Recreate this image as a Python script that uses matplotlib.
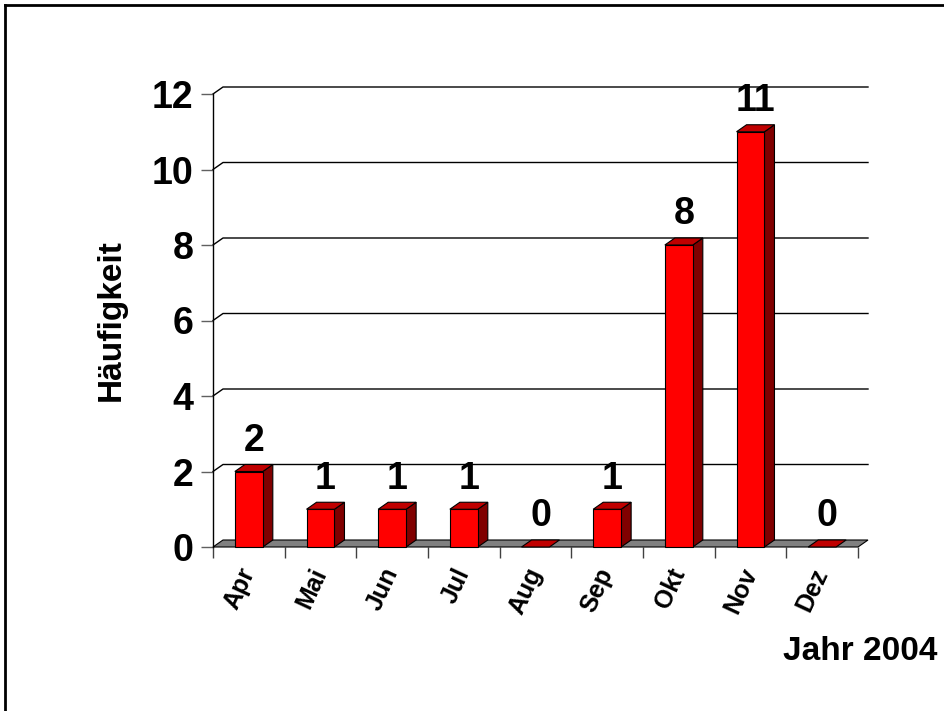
import matplotlib.pyplot as plt
from matplotlib.patches import Polygon
from matplotlib.lines import Line2D

plt.rcParams['font.family'] = ['Liberation Sans', 'DejaVu Sans']
plt.rcParams['font.weight'] = 'bold'

months = ["Apr", "Mai", "Jun", "Jul", "Aug", "Sep", "Okt", "Nov", "Dez"]
counts = [2, 1, 1, 1, 0, 1, 8, 11, 0]
yticks = [0, 2, 4, 6, 8, 10, 12]

fig = plt.figure(figsize=(9.44, 7.11), dpi=100)
ax = fig.add_axes([213 / 944, 1 - 547 / 711, 645 / 944, 453 / 711])
n = len(months)
ax.set_xlim(0, n)
ax.set_ylim(0, 12)
for s in ax.spines.values():
    s.set_visible(False)

# depth offset of the 3d look, in data units
dx = 10 / (645 / n)
dy = 7 / (453 / 12)
bw = 0.39

# gridlines on side + back wall
for v in yticks[1:]:
    ax.plot([0, dx, n + dx], [v, v + dy, v + dy], color="black", lw=1, clip_on=False, zorder=1)

# floor
ax.add_patch(Polygon([(0, 0), (n, 0), (n + dx, dy), (dx, dy)], closed=True,
                     facecolor="#808080", edgecolor="black", lw=0.8, clip_on=False, zorder=2))
ax.plot([0, 0], [0, 12], color="black", lw=1, clip_on=False, zorder=2)

for i, v in enumerate(counts):
    x0 = i + 0.5 - bw / 2
    x1 = x0 + bw
    if v > 0:
        ax.add_patch(Polygon([(x1, 0), (x1 + dx, dy), (x1 + dx, v + dy), (x1, v)], closed=True,
                             facecolor="#800000", edgecolor="black", lw=0.8, clip_on=False, zorder=3))
        ax.add_patch(Polygon([(x0, 0), (x1, 0), (x1, v), (x0, v)], closed=True,
                             facecolor="#ff0000", edgecolor="black", lw=0.8, clip_on=False, zorder=4))
    ax.add_patch(Polygon([(x0, v), (x1, v), (x1 + dx, v + dy), (x0 + dx, v + dy)], closed=True,
                         facecolor="#c00000", edgecolor="black", lw=0.8, clip_on=False, zorder=4))
    ax.annotate(str(v), (i + 0.5 + dx / 2, v + dy), xytext=(0, 4), textcoords="offset points",
                ha="center", va="bottom", fontsize=27, fontweight="bold", zorder=5)

ax.set_yticks(yticks)
ax.set_yticklabels([str(t) for t in yticks], fontsize=27, fontweight="bold")
ax.tick_params(axis="y", length=9, width=1, color="#606060", pad=5)

ax.set_xticks([i + 0.5 for i in range(n)])
ax.set_xticklabels(months, fontsize=18, fontweight="bold", rotation=65,
                   ha="right", va="center", rotation_mode="anchor")
ax.set_xticks(range(n + 1), minor=True)
ax.tick_params(axis="x", which="major", length=0, pad=16)
ax.tick_params(axis="x", which="minor", length=8, width=1, color="#404040")

ax.set_ylabel("Häufigkeit", fontsize=24, fontweight="bold", labelpad=18)
fig.text(860 / 944, 1 - 652 / 711, "Jahr 2004", fontsize=24, fontweight="bold",
         ha="center", va="center")

# outer frame (top and left edges)
fig.add_artist(Line2D([5 / 944, 1], [1 - 5 / 711, 1 - 5 / 711], color="black", lw=2))
fig.add_artist(Line2D([5 / 944, 5 / 944], [0, 1 - 5 / 711], color="black", lw=2))

fig.savefig("out.png", dpi=100)
